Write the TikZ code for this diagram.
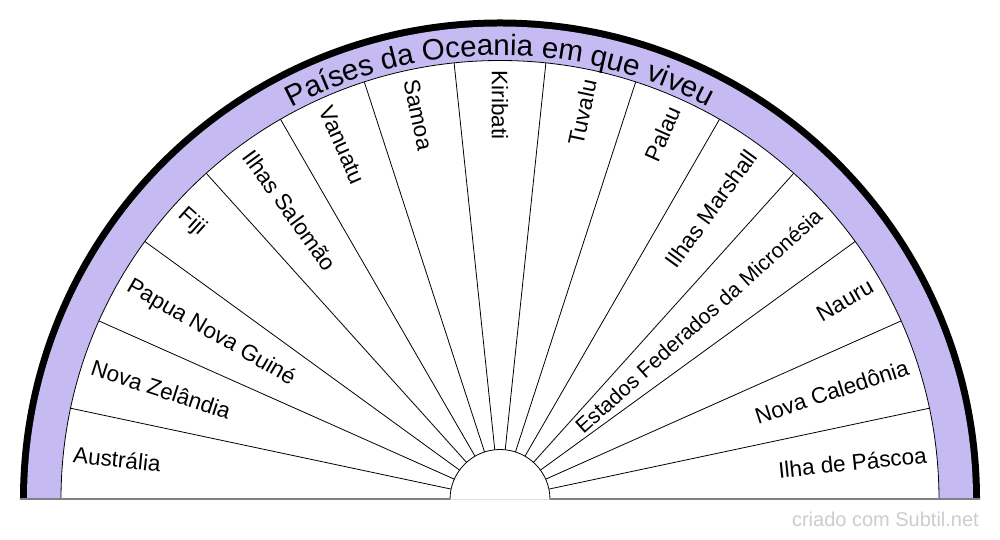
\documentclass[tikz,border=0pt]{standalone}
\usepackage{fontspec}
\setmainfont{Liberation Sans}
\usetikzlibrary{decorations.text}
\definecolor{band}{RGB}{197,187,242}
\definecolor{wmgrey}{RGB}{204,204,204}
\begin{document}
\begin{tikzpicture}[x=1pt,y=1pt,
    lbl/.style={inner sep=0pt,font=\fontsize{22.5}{27}\selectfont},
    lbll/.style={lbl,anchor=west},
    lblr/.style={lbl,anchor=east}]
    \useasboundingbox (-500,-40.5) rectangle (500,499.5);
    % rings
    \fill[black] (-480,0) arc[start angle=180,end angle=0,radius=480] -- cycle;
    \fill[band] (-473,0) arc[start angle=180,end angle=0,radius=473] -- cycle;
    \path[draw,fill=white,line width=0.8pt] (-439,0) arc[start angle=180,end angle=0,radius=439];
    \foreach \a in {12,24,...,168}
        \draw[line width=0.8pt] (\a:50) -- (\a:439);
    \path[draw,fill=white,line width=0.8pt] (-50,0) arc[start angle=180,end angle=0,radius=50];
    \draw[gray,line width=2pt] (-480,0) -- (-50,0) (50,0) -- (480,0);
    % title
    \path[decorate,decoration={text along path,text align=center,
        text={|\fontsize{29.5}{30}\selectfont|Países da Oceania em que viveu}}]
        (-444,0) arc[start angle=180,end angle=0,radius=444];
    % countries
    \node[lbll,rotate=-6] (1) at (174:429) {Austrália};
    \node[lbll,rotate=-18] (2) at (162:429) {Nova Zelândia};
    \node[lbll,rotate=-30] (3) at (150:429) {Papua Nova Guiné};
    \node[lbll,rotate=-42] (4) at (138:429) {Fiji};
    \node[lbll,rotate=-54] (5) at (126:429) {Ilhas Salomão};
    \node[lbll,rotate=-66] (6) at (114:429) {Vanuatu};
    \node[lbll,rotate=-78] (7) at (102:429) {Samoa};
    \node[lbll,rotate=-90] (8) at (90:429) {Kiribati};
    \node[lblr,rotate=78] (9) at (78:429) {Tuvalu};
    \node[lblr,rotate=66] (10) at (66:429) {Palau};
    \node[lblr,rotate=54] (11) at (54:429) {Ilhas Marshall};
    \node[lblr,rotate=42,font=\fontsize{21.3}{26}\selectfont] (12) at (42:429) {Estados Federados da Micronésia};
    \node[lblr,rotate=30] (13) at (30:429) {Nauru};
    \node[lblr,rotate=18] (14) at (18:429) {Nova Caledônia};
    \node[lblr,rotate=6] (15) at (6:429) {Ilha de Páscoa};
    \node[anchor=base east,inner sep=0pt,text=wmgrey,font=\fontsize{20}{24}\selectfont] (credit) at (479,-27) {criado com Subtil.net};
\end{tikzpicture}
\end{document}
